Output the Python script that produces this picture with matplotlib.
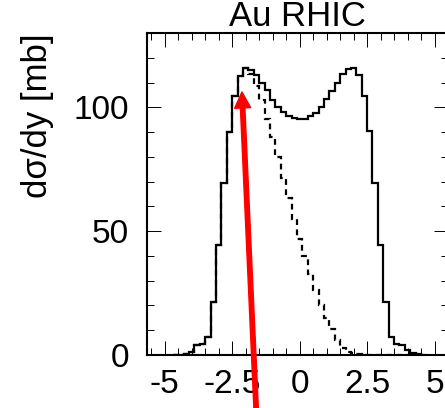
import numpy as np
import matplotlib
matplotlib.use("Agg")
import matplotlib.pyplot as plt
from matplotlib.ticker import MultipleLocator

plt.rcParams['font.family'] = ['Liberation Sans', 'DejaVu Sans']

# bin edges of the rapidity histograms (width 0.2)
edges = np.linspace(-4.7, 4.7, 48)

# full distribution (solid)
solid = [0.0, 0.1, 0.4, 1.4, 4.0, 4.5, 7.4, 21.5, 44.4, 69.5, 90.2, 104.6,
         112.7, 115.8, 115.0, 113.2, 110.0, 106.8, 103.1, 100.0, 98.0, 96.5,
         95.5, 95.2, 95.4, 96.4, 97.9, 100.1, 103.2, 106.5, 110.0, 113.3,
         115.6, 116.0, 112.9, 104.6, 90.3, 69.5, 44.4, 21.5, 7.4, 4.5, 4.0,
         2.0, 0.8, 0.3, 0.0]

# one-sided contribution (dotted)
dotted = [0.0, 0.1, 0.4, 1.4, 4.0, 4.5, 7.4, 21.5, 44.4, 69.5, 90.2, 104.6,
          112.7, 115.8, 113.5, 108.8, 102.8, 95.4, 88.0, 79.8, 71.6, 63.4,
          55.1, 47.0, 39.9, 32.9, 26.2, 20.2, 15.0, 10.5, 6.0, 2.8, 1.3,
          0.9, 0.4, 0.1, 0.0, 0.0, 0.0, 0.0, 0.0, 0.0, 0.0, 0.0, 0.0, 0.0,
          0.0]

xticks = [-5, -2.5, 0, 2.5, 5]
xticklabels = ["-5", "-2.5", "0", "2.5", "5"]
yticks = [0, 50, 100]

arrow_tip = (-2.14, 106.2)
arrow_tail = (-1.60, -25)

fig = plt.figure(figsize=(4.45, 4.08), dpi=100)
ax = fig.add_axes([147 / 445, 1 - 355 / 408, (448 - 147) / 445, (355 - 33) / 408])

ax.stairs(dotted, edges, color="black", lw=1.6, linestyle=(0, (2.6, 2.0)))
ax.stairs(solid, edges, color="black", lw=1.6)

ax.set_xlim(-5.66, 5.5)
ax.set_ylim(0, 130)
ax.set_xticks(xticks)
ax.set_xticklabels(xticklabels)
ax.set_yticks(yticks)
ax.xaxis.set_minor_locator(MultipleLocator(0.5))
ax.yaxis.set_minor_locator(MultipleLocator(10))
ax.tick_params(which="both", direction="in", top=True, right=True, width=0.7)
ax.tick_params(which="major", length=10, labelsize=24)
ax.tick_params(which="minor", length=5)
ax.tick_params(axis="x", which="major", pad=10)
ax.tick_params(axis="y", which="major", pad=13)
for s in ax.spines.values():
    s.set_linewidth(1.5)

ax.set_title("Au RHIC", fontsize=25, pad=0)
ax.set_ylabel("dσ/dy [mb]", fontsize=25, loc="top")
ax.yaxis.set_label_coords(-0.31, 1.0)

ax.annotate("", xy=arrow_tip, xytext=arrow_tail, xycoords="data",
            annotation_clip=False,
            arrowprops=dict(facecolor="red", edgecolor="red", width=3.2,
                            headwidth=11.5, headlength=11.5, shrink=0))

fig.savefig("out.png", dpi=100)
